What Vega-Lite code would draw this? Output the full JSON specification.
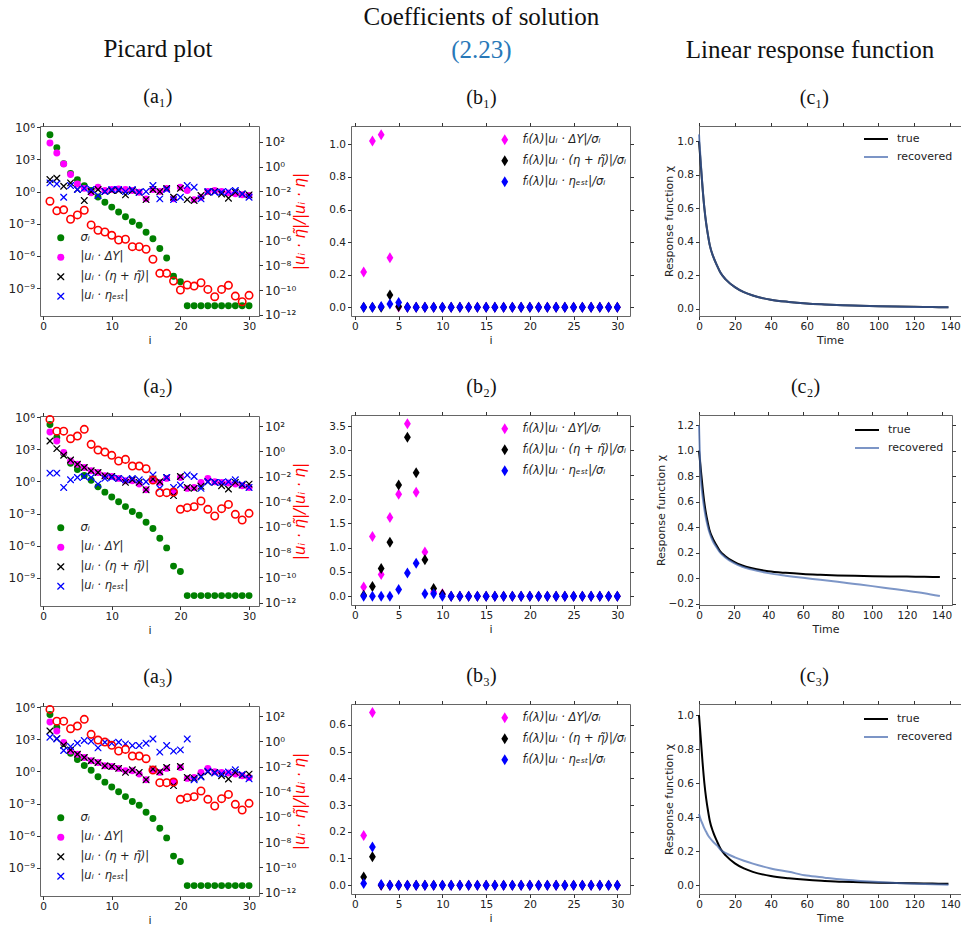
{
"$schema": "https://vega.github.io/schema/vega-lite/v6.json",
"padding": {"left": 7, "top": 3, "right": 0, "bottom": 0},
"config": {
 "font": "DejaVu Sans",
 "view": {"stroke": "#666666", "strokeWidth": 1},
 "axis": {"domain": false, "grid": false, "ticks": true, "tickSize": 3.5, "tickColor": "#333333", "tickWidth": 1, "labelFont": "DejaVu Sans", "labelFontSize": 10.5, "labelColor": "#222222", "labelPadding": 2, "labelFlush": false, "labelOverlap": false, "titleFont": "DejaVu Sans", "titleFontSize": 11, "titleFontWeight": "normal", "titleColor": "#222222", "titlePadding": 2},
 "title": {"font": "Liberation Serif", "fontSize": 20, "fontWeight": "normal", "color": "#111111", "anchor": "middle", "frame": "bounds", "offset": 14, "subtitleFont": "Liberation Serif", "subtitleFontSize": 25, "subtitleColor": "#111111"},
 "legend": {"padding": 0, "labelFont": "DejaVu Sans", "labelColor": "#222222"}
},
"datasets": {
 "a1": [
{"i":1,"s":"sig","v":2e5},{"i":2,"s":"sig","v":1.26e4},{"i":3,"s":"sig","v":398},{"i":4,"s":"sig","v":50},{"i":5,"s":"sig","v":12.6},{"i":6,"s":"sig","v":3.55},{"i":7,"s":"sig","v":1.26},{"i":8,"s":"sig","v":0.316},{"i":9,"s":"sig","v":0.1},{"i":10,"s":"sig","v":0.0355},{"i":11,"s":"sig","v":0.0126},{"i":12,"s":"sig","v":0.00447},{"i":13,"s":"sig","v":0.00158},{"i":14,"s":"sig","v":0.00071},{"i":15,"s":"sig","v":0.000158},{"i":16,"s":"sig","v":3.98e-5},{"i":17,"s":"sig","v":5e-6},{"i":18,"s":"sig","v":6.3e-7},{"i":19,"s":"sig","v":1.26e-8},{"i":20,"s":"sig","v":3.98e-9},{"i":21,"s":"sig","v":2.24e-11},{"i":22,"s":"sig","v":2.24e-11},{"i":23,"s":"sig","v":2.24e-11},{"i":24,"s":"sig","v":2.24e-11},{"i":25,"s":"sig","v":2.24e-11},{"i":26,"s":"sig","v":2.24e-11},{"i":27,"s":"sig","v":2.24e-11},{"i":28,"s":"sig","v":2.24e-11},{"i":29,"s":"sig","v":2.24e-11},{"i":30,"s":"sig","v":2.24e-11},
{"i":1,"s":"dy","v":33900},{"i":2,"s":"dy","v":3981},{"i":3,"s":"dy","v":380},{"i":4,"s":"dy","v":39.8},{"i":5,"s":"dy","v":5.0},{"i":6,"s":"dy","v":2.0},{"i":7,"s":"dy","v":0.76},{"i":8,"s":"dy","v":2.51},{"i":9,"s":"dy","v":1.26},{"i":10,"s":"dy","v":1.55},{"i":11,"s":"dy","v":1.78},{"i":12,"s":"dy","v":1.55},{"i":13,"s":"dy","v":1.26},{"i":14,"s":"dy","v":0.87},{"i":15,"s":"dy","v":0.209},{"i":16,"s":"dy","v":1.55},{"i":17,"s":"dy","v":1.0},{"i":18,"s":"dy","v":2.0},{"i":19,"s":"dy","v":0.209},{"i":20,"s":"dy","v":2.51},{"i":21,"s":"dy","v":1.26},{"i":22,"s":"dy","v":0.178},{"i":23,"s":"dy","v":0.295},{"i":24,"s":"dy","v":1.0},{"i":25,"s":"dy","v":1.26},{"i":26,"s":"dy","v":1.0},{"i":27,"s":"dy","v":0.76},{"i":28,"s":"dy","v":0.63},{"i":29,"s":"dy","v":0.5},{"i":30,"s":"dy","v":0.427},
{"i":1,"s":"eta","v":13.2},{"i":2,"s":"eta","v":17.4},{"i":3,"s":"eta","v":3.16},{"i":4,"s":"eta","v":6.46},{"i":5,"s":"eta","v":1.55},{"i":6,"s":"eta","v":0.145},{"i":7,"s":"eta","v":1.0},{"i":8,"s":"eta","v":1.55},{"i":9,"s":"eta","v":1.0},{"i":10,"s":"eta","v":1.26},{"i":11,"s":"eta","v":1.26},{"i":12,"s":"eta","v":0.49},{"i":13,"s":"eta","v":1.26},{"i":14,"s":"eta","v":0.87},{"i":15,"s":"eta","v":0.178},{"i":16,"s":"eta","v":1.55},{"i":17,"s":"eta","v":1.0},{"i":18,"s":"eta","v":2.0},{"i":19,"s":"eta","v":0.295},{"i":20,"s":"eta","v":2.0},{"i":21,"s":"eta","v":0.178},{"i":22,"s":"eta","v":0.145},{"i":23,"s":"eta","v":0.427},{"i":24,"s":"eta","v":0.87},{"i":25,"s":"eta","v":1.0},{"i":26,"s":"eta","v":0.6},{"i":27,"s":"eta","v":0.24},{"i":28,"s":"eta","v":0.87},{"i":29,"s":"eta","v":0.6},{"i":30,"s":"eta","v":0.49},
{"i":1,"s":"est","v":6.46},{"i":2,"s":"est","v":5.13},{"i":3,"s":"est","v":0.295},{"i":4,"s":"est","v":3.63},{"i":5,"s":"est","v":1.55},{"i":6,"s":"est","v":2.04},{"i":7,"s":"est","v":1.55},{"i":8,"s":"est","v":0.427},{"i":9,"s":"est","v":1.0},{"i":10,"s":"est","v":1.55},{"i":11,"s":"est","v":1.55},{"i":12,"s":"est","v":1.0},{"i":13,"s":"est","v":1.55},{"i":14,"s":"est","v":0.87},{"i":15,"s":"est","v":1.0},{"i":16,"s":"est","v":3.63},{"i":17,"s":"est","v":0.209},{"i":18,"s":"est","v":1.55},{"i":19,"s":"est","v":0.178},{"i":20,"s":"est","v":0.295},{"i":21,"s":"est","v":3.63},{"i":22,"s":"est","v":2.51},{"i":23,"s":"est","v":0.209},{"i":24,"s":"est","v":1.0},{"i":25,"s":"est","v":0.87},{"i":26,"s":"est","v":0.87},{"i":27,"s":"est","v":1.0},{"i":28,"s":"est","v":1.26},{"i":29,"s":"est","v":0.6},{"i":30,"s":"est","v":0.295}
 ],
 "a2": [
{"i":1,"s":"sig","v":2e5},{"i":2,"s":"sig","v":1.26e4},{"i":3,"s":"sig","v":398},{"i":4,"s":"sig","v":50},{"i":5,"s":"sig","v":12.6},{"i":6,"s":"sig","v":3.55},{"i":7,"s":"sig","v":1.26},{"i":8,"s":"sig","v":0.316},{"i":9,"s":"sig","v":0.1},{"i":10,"s":"sig","v":0.0355},{"i":11,"s":"sig","v":0.0126},{"i":12,"s":"sig","v":0.00447},{"i":13,"s":"sig","v":0.00158},{"i":14,"s":"sig","v":0.00071},{"i":15,"s":"sig","v":0.000158},{"i":16,"s":"sig","v":3.98e-5},{"i":17,"s":"sig","v":5e-6},{"i":18,"s":"sig","v":6.3e-7},{"i":19,"s":"sig","v":1.26e-8},{"i":20,"s":"sig","v":3.98e-9},{"i":21,"s":"sig","v":2.24e-11},{"i":22,"s":"sig","v":2.24e-11},{"i":23,"s":"sig","v":2.24e-11},{"i":24,"s":"sig","v":2.24e-11},{"i":25,"s":"sig","v":2.24e-11},{"i":26,"s":"sig","v":2.24e-11},{"i":27,"s":"sig","v":2.24e-11},{"i":28,"s":"sig","v":2.24e-11},{"i":29,"s":"sig","v":2.24e-11},{"i":30,"s":"sig","v":2.24e-11},
{"i":1,"s":"dy","v":39800},{"i":2,"s":"dy","v":5890},{"i":3,"s":"dy","v":490},{"i":4,"s":"dy","v":81.3},{"i":5,"s":"dy","v":39.8},{"i":6,"s":"dy","v":20},{"i":7,"s":"dy","v":9.77},{"i":8,"s":"dy","v":6.76},{"i":9,"s":"dy","v":3.31},{"i":10,"s":"dy","v":2.88},{"i":11,"s":"dy","v":1.91},{"i":12,"s":"dy","v":1.15},{"i":13,"s":"dy","v":1.15},{"i":14,"s":"dy","v":0.56},{"i":15,"s":"dy","v":0.17},{"i":16,"s":"dy","v":1.41},{"i":17,"s":"dy","v":0.81},{"i":18,"s":"dy","v":1.91},{"i":19,"s":"dy","v":0.11},{"i":20,"s":"dy","v":2.34},{"i":21,"s":"dy","v":0.224},{"i":22,"s":"dy","v":0.275},{"i":23,"s":"dy","v":0.81},{"i":24,"s":"dy","v":1.91},{"i":25,"s":"dy","v":0.93},{"i":26,"s":"dy","v":0.81},{"i":27,"s":"dy","v":0.71},{"i":28,"s":"dy","v":0.56},{"i":29,"s":"dy","v":0.4},{"i":30,"s":"dy","v":0.275},
{"i":1,"s":"eta","v":5890},{"i":2,"s":"eta","v":1150},{"i":3,"s":"eta","v":275},{"i":4,"s":"eta","v":100},{"i":5,"s":"eta","v":39.8},{"i":6,"s":"eta","v":20},{"i":7,"s":"eta","v":9.77},{"i":8,"s":"eta","v":6.76},{"i":9,"s":"eta","v":3.31},{"i":10,"s":"eta","v":2.88},{"i":11,"s":"eta","v":1.91},{"i":12,"s":"eta","v":0.81},{"i":13,"s":"eta","v":1.41},{"i":14,"s":"eta","v":0.81},{"i":15,"s":"eta","v":0.17},{"i":16,"s":"eta","v":1.66},{"i":17,"s":"eta","v":0.93},{"i":18,"s":"eta","v":2.34},{"i":19,"s":"eta","v":0.047},{"i":20,"s":"eta","v":2.88},{"i":21,"s":"eta","v":0.275},{"i":22,"s":"eta","v":0.224},{"i":23,"s":"eta","v":0.347},{"i":24,"s":"eta","v":0.93},{"i":25,"s":"eta","v":0.81},{"i":26,"s":"eta","v":0.4},{"i":27,"s":"eta","v":0.195},{"i":28,"s":"eta","v":0.81},{"i":29,"s":"eta","v":0.457},{"i":30,"s":"eta","v":0.56},
{"i":1,"s":"est","v":5.89},{"i":2,"s":"est","v":5.89},{"i":3,"s":"est","v":0.275},{"i":4,"s":"est","v":1.41},{"i":5,"s":"est","v":2.34},{"i":6,"s":"est","v":2.88},{"i":7,"s":"est","v":2.34},{"i":8,"s":"est","v":0.56},{"i":9,"s":"est","v":1.91},{"i":10,"s":"est","v":2.34},{"i":11,"s":"est","v":1.91},{"i":12,"s":"est","v":1.41},{"i":13,"s":"est","v":1.91},{"i":14,"s":"est","v":1.41},{"i":15,"s":"est","v":0.93},{"i":16,"s":"est","v":3.89},{"i":17,"s":"est","v":0.224},{"i":18,"s":"est","v":2.34},{"i":19,"s":"est","v":0.275},{"i":20,"s":"est","v":0.457},{"i":21,"s":"est","v":3.89},{"i":22,"s":"est","v":2.88},{"i":23,"s":"est","v":0.224},{"i":24,"s":"est","v":0.93},{"i":25,"s":"est","v":0.81},{"i":26,"s":"est","v":0.81},{"i":27,"s":"est","v":0.93},{"i":28,"s":"est","v":1.41},{"i":29,"s":"est","v":0.56},{"i":30,"s":"est","v":0.275}
 ],
 "a3": [
{"i":1,"s":"sig","v":2e5},{"i":2,"s":"sig","v":1.26e4},{"i":3,"s":"sig","v":398},{"i":4,"s":"sig","v":50},{"i":5,"s":"sig","v":12.6},{"i":6,"s":"sig","v":3.55},{"i":7,"s":"sig","v":1.26},{"i":8,"s":"sig","v":0.316},{"i":9,"s":"sig","v":0.1},{"i":10,"s":"sig","v":0.0355},{"i":11,"s":"sig","v":0.0126},{"i":12,"s":"sig","v":0.00447},{"i":13,"s":"sig","v":0.00158},{"i":14,"s":"sig","v":0.00071},{"i":15,"s":"sig","v":0.000158},{"i":16,"s":"sig","v":3.98e-5},{"i":17,"s":"sig","v":5e-6},{"i":18,"s":"sig","v":6.3e-7},{"i":19,"s":"sig","v":1.26e-8},{"i":20,"s":"sig","v":3.98e-9},{"i":21,"s":"sig","v":2.24e-11},{"i":22,"s":"sig","v":2.24e-11},{"i":23,"s":"sig","v":2.24e-11},{"i":24,"s":"sig","v":2.24e-11},{"i":25,"s":"sig","v":2.24e-11},{"i":26,"s":"sig","v":2.24e-11},{"i":27,"s":"sig","v":2.24e-11},{"i":28,"s":"sig","v":2.24e-11},{"i":29,"s":"sig","v":2.24e-11},{"i":30,"s":"sig","v":2.24e-11},
{"i":1,"s":"dy","v":39800},{"i":2,"s":"dy","v":5890},{"i":3,"s":"dy","v":490},{"i":4,"s":"dy","v":81.3},{"i":5,"s":"dy","v":39.8},{"i":6,"s":"dy","v":20},{"i":7,"s":"dy","v":9.77},{"i":8,"s":"dy","v":6.76},{"i":9,"s":"dy","v":3.31},{"i":10,"s":"dy","v":2.88},{"i":11,"s":"dy","v":1.91},{"i":12,"s":"dy","v":1.15},{"i":13,"s":"dy","v":1.15},{"i":14,"s":"dy","v":0.56},{"i":15,"s":"dy","v":0.17},{"i":16,"s":"dy","v":1.41},{"i":17,"s":"dy","v":0.81},{"i":18,"s":"dy","v":1.91},{"i":19,"s":"dy","v":0.11},{"i":20,"s":"dy","v":2.34},{"i":21,"s":"dy","v":0.224},{"i":22,"s":"dy","v":0.275},{"i":23,"s":"dy","v":0.81},{"i":24,"s":"dy","v":1.91},{"i":25,"s":"dy","v":0.93},{"i":26,"s":"dy","v":0.81},{"i":27,"s":"dy","v":0.71},{"i":28,"s":"dy","v":0.56},{"i":29,"s":"dy","v":0.4},{"i":30,"s":"dy","v":0.275},
{"i":1,"s":"eta","v":5890},{"i":2,"s":"eta","v":1150},{"i":3,"s":"eta","v":275},{"i":4,"s":"eta","v":100},{"i":5,"s":"eta","v":39.8},{"i":6,"s":"eta","v":20},{"i":7,"s":"eta","v":9.77},{"i":8,"s":"eta","v":6.76},{"i":9,"s":"eta","v":3.31},{"i":10,"s":"eta","v":2.88},{"i":11,"s":"eta","v":1.91},{"i":12,"s":"eta","v":0.81},{"i":13,"s":"eta","v":1.41},{"i":14,"s":"eta","v":0.81},{"i":15,"s":"eta","v":0.17},{"i":16,"s":"eta","v":1.66},{"i":17,"s":"eta","v":0.93},{"i":18,"s":"eta","v":2.34},{"i":19,"s":"eta","v":0.047},{"i":20,"s":"eta","v":2.88},{"i":21,"s":"eta","v":0.275},{"i":22,"s":"eta","v":0.224},{"i":23,"s":"eta","v":0.347},{"i":24,"s":"eta","v":0.93},{"i":25,"s":"eta","v":0.81},{"i":26,"s":"eta","v":0.4},{"i":27,"s":"eta","v":0.195},{"i":28,"s":"eta","v":0.81},{"i":29,"s":"eta","v":0.457},{"i":30,"s":"eta","v":0.56},
{"i":1,"s":"est","v":1549},{"i":2,"s":"est","v":1072},{"i":3,"s":"est","v":89},{"i":4,"s":"est","v":209},{"i":5,"s":"est","v":427},{"i":6,"s":"est","v":759},{"i":7,"s":"est","v":661},{"i":8,"s":"est","v":158},{"i":9,"s":"est","v":525},{"i":10,"s":"est","v":427},{"i":11,"s":"est","v":525},{"i":12,"s":"est","v":372},{"i":13,"s":"est","v":257},{"i":14,"s":"est","v":257},{"i":15,"s":"est","v":427},{"i":16,"s":"est","v":1072},{"i":17,"s":"est","v":63},{"i":18,"s":"est","v":257},{"i":19,"s":"est","v":78},{"i":20,"s":"est","v":102},{"i":21,"s":"est","v":1072},{"i":22,"s":"est","v":0.17},{"i":23,"s":"est","v":0.295},{"i":24,"s":"est","v":1.07},{"i":25,"s":"est","v":0.71},{"i":26,"s":"est","v":0.6},{"i":27,"s":"est","v":0.87},{"i":28,"s":"est","v":1.41},{"i":29,"s":"est","v":0.525},{"i":30,"s":"est","v":0.209}
 ],
 "r1": [
{"i":1,"v":1.55e-3},{"i":2,"v":2.57e-4},{"i":3,"v":3.09e-4},{"i":4,"v":5.37e-5},{"i":5,"v":1.2e-4},{"i":6,"v":2.88e-4},{"i":7,"v":1.86e-5},{"i":8,"v":6.9e-6},{"i":9,"v":5.0e-6},{"i":10,"v":2.69e-6},{"i":11,"v":1.12e-6},{"i":12,"v":1.29e-6},{"i":13,"v":3.24e-7},{"i":14,"v":3.24e-7},{"i":15,"v":2.0e-7},{"i":16,"v":3.09e-8},{"i":17,"v":2.24e-9},{"i":18,"v":2.24e-9},{"i":19,"v":5.37e-10},{"i":20,"v":1.0e-10},{"i":21,"v":2.57e-10},{"i":22,"v":2.09e-10},{"i":23,"v":3.89e-10},{"i":24,"v":1.12e-10},{"i":25,"v":2.88e-11},{"i":26,"v":1.12e-10},{"i":27,"v":2.4e-10},{"i":28,"v":3.24e-11},{"i":29,"v":1.12e-11},{"i":30,"v":3.72e-11}
 ],
 "r23": [
{"i":1,"v":339},{"i":2,"v":39.8},{"i":3,"v":39.8},{"i":4,"v":10},{"i":5,"v":16.2},{"i":6,"v":55},{"i":7,"v":3.55},{"i":8,"v":1.26},{"i":9,"v":0.87},{"i":10,"v":0.479},{"i":11,"v":0.17},{"i":12,"v":0.229},{"i":13,"v":0.0676},{"i":14,"v":0.0676},{"i":15,"v":0.0417},{"i":16,"v":5.25e-3},{"i":17,"v":5.25e-4},{"i":18,"v":5.25e-4},{"i":19,"v":5.89e-4},{"i":20,"v":2.51e-5},{"i":21,"v":3.39e-5},{"i":22,"v":4.07e-5},{"i":23,"v":1.15e-4},{"i":24,"v":2.51e-5},{"i":25,"v":7.41e-6},{"i":26,"v":2.82e-5},{"i":27,"v":6.17e-5},{"i":28,"v":1.0e-5},{"i":29,"v":3.55e-6},{"i":30,"v":1.2e-5}
 ],
 "b1": [
{"i":1,"s":"dy","v":0.217},{"i":2,"s":"dy","v":1.02},{"i":3,"s":"dy","v":1.059},{"i":4,"s":"dy","v":0.304},{"i":5,"s":"dy","v":0.002},{"i":6,"s":"dy","v":0},{"i":7,"s":"dy","v":0},{"i":8,"s":"dy","v":0},{"i":9,"s":"dy","v":0},{"i":10,"s":"dy","v":0},{"i":11,"s":"dy","v":0},{"i":12,"s":"dy","v":0},{"i":13,"s":"dy","v":0},{"i":14,"s":"dy","v":0},{"i":15,"s":"dy","v":0},{"i":16,"s":"dy","v":0},{"i":17,"s":"dy","v":0},{"i":18,"s":"dy","v":0},{"i":19,"s":"dy","v":0},{"i":20,"s":"dy","v":0},{"i":21,"s":"dy","v":0},{"i":22,"s":"dy","v":0},{"i":23,"s":"dy","v":0},{"i":24,"s":"dy","v":0},{"i":25,"s":"dy","v":0},{"i":26,"s":"dy","v":0},{"i":27,"s":"dy","v":0},{"i":28,"s":"dy","v":0},{"i":29,"s":"dy","v":0},{"i":30,"s":"dy","v":0},
{"i":1,"s":"eta","v":0},{"i":2,"s":"eta","v":0},{"i":3,"s":"eta","v":0},{"i":4,"s":"eta","v":0.075},{"i":5,"s":"eta","v":0.006},{"i":6,"s":"eta","v":0},{"i":7,"s":"eta","v":0},{"i":8,"s":"eta","v":0},{"i":9,"s":"eta","v":0},{"i":10,"s":"eta","v":0},{"i":11,"s":"eta","v":0},{"i":12,"s":"eta","v":0},{"i":13,"s":"eta","v":0},{"i":14,"s":"eta","v":0},{"i":15,"s":"eta","v":0},{"i":16,"s":"eta","v":0},{"i":17,"s":"eta","v":0},{"i":18,"s":"eta","v":0},{"i":19,"s":"eta","v":0},{"i":20,"s":"eta","v":0},{"i":21,"s":"eta","v":0},{"i":22,"s":"eta","v":0},{"i":23,"s":"eta","v":0},{"i":24,"s":"eta","v":0},{"i":25,"s":"eta","v":0},{"i":26,"s":"eta","v":0},{"i":27,"s":"eta","v":0},{"i":28,"s":"eta","v":0},{"i":29,"s":"eta","v":0},{"i":30,"s":"eta","v":0},
{"i":1,"s":"est","v":0},{"i":2,"s":"est","v":0},{"i":3,"s":"est","v":0.005},{"i":4,"s":"est","v":0.02},{"i":5,"s":"est","v":0.03},{"i":6,"s":"est","v":0},{"i":7,"s":"est","v":0},{"i":8,"s":"est","v":0},{"i":9,"s":"est","v":0},{"i":10,"s":"est","v":0},{"i":11,"s":"est","v":0},{"i":12,"s":"est","v":0},{"i":13,"s":"est","v":0},{"i":14,"s":"est","v":0},{"i":15,"s":"est","v":0},{"i":16,"s":"est","v":0},{"i":17,"s":"est","v":0},{"i":18,"s":"est","v":0},{"i":19,"s":"est","v":0},{"i":20,"s":"est","v":0},{"i":21,"s":"est","v":0},{"i":22,"s":"est","v":0},{"i":23,"s":"est","v":0},{"i":24,"s":"est","v":0},{"i":25,"s":"est","v":0},{"i":26,"s":"est","v":0},{"i":27,"s":"est","v":0},{"i":28,"s":"est","v":0},{"i":29,"s":"est","v":0},{"i":30,"s":"est","v":0}
 ],
 "b2": [
{"i":1,"s":"dy","v":0.19},{"i":2,"s":"dy","v":1.23},{"i":3,"s":"dy","v":0.45},{"i":4,"s":"dy","v":1.62},{"i":5,"s":"dy","v":2.1},{"i":6,"s":"dy","v":3.55},{"i":7,"s":"dy","v":2.14},{"i":8,"s":"dy","v":0.91},{"i":9,"s":"dy","v":0.09},{"i":10,"s":"dy","v":0.05},{"i":11,"s":"dy","v":0},{"i":12,"s":"dy","v":0},{"i":13,"s":"dy","v":0},{"i":14,"s":"dy","v":0},{"i":15,"s":"dy","v":0},{"i":16,"s":"dy","v":0},{"i":17,"s":"dy","v":0},{"i":18,"s":"dy","v":0},{"i":19,"s":"dy","v":0},{"i":20,"s":"dy","v":0},{"i":21,"s":"dy","v":0},{"i":22,"s":"dy","v":0},{"i":23,"s":"dy","v":0},{"i":24,"s":"dy","v":0},{"i":25,"s":"dy","v":0},{"i":26,"s":"dy","v":0},{"i":27,"s":"dy","v":0},{"i":28,"s":"dy","v":0},{"i":29,"s":"dy","v":0},{"i":30,"s":"dy","v":0},
{"i":1,"s":"eta","v":0.02},{"i":2,"s":"eta","v":0.2},{"i":3,"s":"eta","v":0.57},{"i":4,"s":"eta","v":1.11},{"i":5,"s":"eta","v":2.29},{"i":6,"s":"eta","v":3.27},{"i":7,"s":"eta","v":2.54},{"i":8,"s":"eta","v":0.75},{"i":9,"s":"eta","v":0.16},{"i":10,"s":"eta","v":0.04},{"i":11,"s":"eta","v":0},{"i":12,"s":"eta","v":0},{"i":13,"s":"eta","v":0},{"i":14,"s":"eta","v":0},{"i":15,"s":"eta","v":0},{"i":16,"s":"eta","v":0},{"i":17,"s":"eta","v":0},{"i":18,"s":"eta","v":0},{"i":19,"s":"eta","v":0},{"i":20,"s":"eta","v":0},{"i":21,"s":"eta","v":0},{"i":22,"s":"eta","v":0},{"i":23,"s":"eta","v":0},{"i":24,"s":"eta","v":0},{"i":25,"s":"eta","v":0},{"i":26,"s":"eta","v":0},{"i":27,"s":"eta","v":0},{"i":28,"s":"eta","v":0},{"i":29,"s":"eta","v":0},{"i":30,"s":"eta","v":0},
{"i":1,"s":"est","v":0},{"i":2,"s":"est","v":0},{"i":3,"s":"est","v":0},{"i":4,"s":"est","v":0},{"i":5,"s":"est","v":0.14},{"i":6,"s":"est","v":0.48},{"i":7,"s":"est","v":0.68},{"i":8,"s":"est","v":0.05},{"i":9,"s":"est","v":0.05},{"i":10,"s":"est","v":0},{"i":11,"s":"est","v":0},{"i":12,"s":"est","v":0},{"i":13,"s":"est","v":0},{"i":14,"s":"est","v":0},{"i":15,"s":"est","v":0},{"i":16,"s":"est","v":0},{"i":17,"s":"est","v":0},{"i":18,"s":"est","v":0},{"i":19,"s":"est","v":0},{"i":20,"s":"est","v":0},{"i":21,"s":"est","v":0},{"i":22,"s":"est","v":0},{"i":23,"s":"est","v":0},{"i":24,"s":"est","v":0},{"i":25,"s":"est","v":0},{"i":26,"s":"est","v":0},{"i":27,"s":"est","v":0},{"i":28,"s":"est","v":0},{"i":29,"s":"est","v":0},{"i":30,"s":"est","v":0}
 ],
 "b3": [
{"i":1,"s":"dy","v":0.186},{"i":2,"s":"dy","v":0.646},{"i":3,"s":"dy","v":0},{"i":4,"s":"dy","v":0},{"i":5,"s":"dy","v":0},{"i":6,"s":"dy","v":0},{"i":7,"s":"dy","v":0},{"i":8,"s":"dy","v":0},{"i":9,"s":"dy","v":0},{"i":10,"s":"dy","v":0},{"i":11,"s":"dy","v":0},{"i":12,"s":"dy","v":0},{"i":13,"s":"dy","v":0},{"i":14,"s":"dy","v":0},{"i":15,"s":"dy","v":0},{"i":16,"s":"dy","v":0},{"i":17,"s":"dy","v":0},{"i":18,"s":"dy","v":0},{"i":19,"s":"dy","v":0},{"i":20,"s":"dy","v":0},{"i":21,"s":"dy","v":0},{"i":22,"s":"dy","v":0},{"i":23,"s":"dy","v":0},{"i":24,"s":"dy","v":0},{"i":25,"s":"dy","v":0},{"i":26,"s":"dy","v":0},{"i":27,"s":"dy","v":0},{"i":28,"s":"dy","v":0},{"i":29,"s":"dy","v":0},{"i":30,"s":"dy","v":0},
{"i":1,"s":"eta","v":0.031},{"i":2,"s":"eta","v":0.106},{"i":3,"s":"eta","v":0},{"i":4,"s":"eta","v":0},{"i":5,"s":"eta","v":0},{"i":6,"s":"eta","v":0},{"i":7,"s":"eta","v":0},{"i":8,"s":"eta","v":0},{"i":9,"s":"eta","v":0},{"i":10,"s":"eta","v":0},{"i":11,"s":"eta","v":0},{"i":12,"s":"eta","v":0},{"i":13,"s":"eta","v":0},{"i":14,"s":"eta","v":0},{"i":15,"s":"eta","v":0},{"i":16,"s":"eta","v":0},{"i":17,"s":"eta","v":0},{"i":18,"s":"eta","v":0},{"i":19,"s":"eta","v":0},{"i":20,"s":"eta","v":0},{"i":21,"s":"eta","v":0},{"i":22,"s":"eta","v":0},{"i":23,"s":"eta","v":0},{"i":24,"s":"eta","v":0},{"i":25,"s":"eta","v":0},{"i":26,"s":"eta","v":0},{"i":27,"s":"eta","v":0},{"i":28,"s":"eta","v":0},{"i":29,"s":"eta","v":0},{"i":30,"s":"eta","v":0},
{"i":1,"s":"est","v":0.006},{"i":2,"s":"est","v":0.143},{"i":3,"s":"est","v":0.003},{"i":4,"s":"est","v":0},{"i":5,"s":"est","v":0},{"i":6,"s":"est","v":0},{"i":7,"s":"est","v":0},{"i":8,"s":"est","v":0},{"i":9,"s":"est","v":0},{"i":10,"s":"est","v":0},{"i":11,"s":"est","v":0},{"i":12,"s":"est","v":0},{"i":13,"s":"est","v":0},{"i":14,"s":"est","v":0},{"i":15,"s":"est","v":0},{"i":16,"s":"est","v":0},{"i":17,"s":"est","v":0},{"i":18,"s":"est","v":0},{"i":19,"s":"est","v":0},{"i":20,"s":"est","v":0},{"i":21,"s":"est","v":0},{"i":22,"s":"est","v":0},{"i":23,"s":"est","v":0},{"i":24,"s":"est","v":0},{"i":25,"s":"est","v":0},{"i":26,"s":"est","v":0},{"i":27,"s":"est","v":0},{"i":28,"s":"est","v":0},{"i":29,"s":"est","v":0},{"i":30,"s":"est","v":0}
 ],
 "c1": [
{"t":0,"s":"true","v":1.0},{"t":1,"s":"true","v":0.86},{"t":2,"s":"true","v":0.72},{"t":3,"s":"true","v":0.6},{"t":4,"s":"true","v":0.51},{"t":5,"s":"true","v":0.44},{"t":6,"s":"true","v":0.38},{"t":8,"s":"true","v":0.31},{"t":10,"s":"true","v":0.26},{"t":12,"s":"true","v":0.215},{"t":15,"s":"true","v":0.175},{"t":20,"s":"true","v":0.13},{"t":25,"s":"true","v":0.1},{"t":30,"s":"true","v":0.08},{"t":40,"s":"true","v":0.055},{"t":50,"s":"true","v":0.042},{"t":60,"s":"true","v":0.033},{"t":70,"s":"true","v":0.027},{"t":80,"s":"true","v":0.022},{"t":90,"s":"true","v":0.019},{"t":100,"s":"true","v":0.016},{"t":110,"s":"true","v":0.014},{"t":120,"s":"true","v":0.013},{"t":130,"s":"true","v":0.011},{"t":139,"s":"true","v":0.01},
{"t":0,"s":"recovered","v":1.04},{"t":1,"s":"recovered","v":0.87},{"t":2,"s":"recovered","v":0.72},{"t":3,"s":"recovered","v":0.6},{"t":4,"s":"recovered","v":0.51},{"t":5,"s":"recovered","v":0.44},{"t":6,"s":"recovered","v":0.38},{"t":8,"s":"recovered","v":0.31},{"t":10,"s":"recovered","v":0.26},{"t":12,"s":"recovered","v":0.215},{"t":15,"s":"recovered","v":0.175},{"t":20,"s":"recovered","v":0.13},{"t":25,"s":"recovered","v":0.1},{"t":30,"s":"recovered","v":0.08},{"t":40,"s":"recovered","v":0.055},{"t":50,"s":"recovered","v":0.042},{"t":60,"s":"recovered","v":0.033},{"t":70,"s":"recovered","v":0.027},{"t":80,"s":"recovered","v":0.022},{"t":90,"s":"recovered","v":0.019},{"t":100,"s":"recovered","v":0.016},{"t":110,"s":"recovered","v":0.014},{"t":120,"s":"recovered","v":0.012},{"t":130,"s":"recovered","v":0.011},{"t":139,"s":"recovered","v":0.01}
 ],
 "c2": [
{"t":0,"s":"true","v":1.0},{"t":1,"s":"true","v":0.86},{"t":2,"s":"true","v":0.72},{"t":3,"s":"true","v":0.6},{"t":4,"s":"true","v":0.51},{"t":5,"s":"true","v":0.44},{"t":6,"s":"true","v":0.38},{"t":8,"s":"true","v":0.31},{"t":10,"s":"true","v":0.26},{"t":12,"s":"true","v":0.215},{"t":15,"s":"true","v":0.175},{"t":20,"s":"true","v":0.13},{"t":25,"s":"true","v":0.1},{"t":30,"s":"true","v":0.08},{"t":40,"s":"true","v":0.055},{"t":50,"s":"true","v":0.042},{"t":60,"s":"true","v":0.033},{"t":70,"s":"true","v":0.027},{"t":80,"s":"true","v":0.022},{"t":90,"s":"true","v":0.019},{"t":100,"s":"true","v":0.016},{"t":110,"s":"true","v":0.014},{"t":120,"s":"true","v":0.013},{"t":130,"s":"true","v":0.011},{"t":139,"s":"true","v":0.01},
{"t":0,"s":"recovered","v":1.2},{"t":1,"s":"recovered","v":0.8},{"t":2,"s":"recovered","v":0.65},{"t":3,"s":"recovered","v":0.55},{"t":4,"s":"recovered","v":0.47},{"t":5,"s":"recovered","v":0.41},{"t":6,"s":"recovered","v":0.36},{"t":8,"s":"recovered","v":0.29},{"t":10,"s":"recovered","v":0.245},{"t":12,"s":"recovered","v":0.205},{"t":15,"s":"recovered","v":0.165},{"t":20,"s":"recovered","v":0.12},{"t":25,"s":"recovered","v":0.09},{"t":30,"s":"recovered","v":0.07},{"t":40,"s":"recovered","v":0.04},{"t":50,"s":"recovered","v":0.02},{"t":60,"s":"recovered","v":0.003},{"t":70,"s":"recovered","v":-0.012},{"t":80,"s":"recovered","v":-0.028},{"t":90,"s":"recovered","v":-0.045},{"t":100,"s":"recovered","v":-0.062},{"t":110,"s":"recovered","v":-0.08},{"t":120,"s":"recovered","v":-0.098},{"t":130,"s":"recovered","v":-0.118},{"t":139,"s":"recovered","v":-0.14}
 ],
 "c3": [
{"t":0,"s":"true","v":1.0},{"t":1,"s":"true","v":0.86},{"t":2,"s":"true","v":0.72},{"t":3,"s":"true","v":0.6},{"t":4,"s":"true","v":0.51},{"t":5,"s":"true","v":0.44},{"t":6,"s":"true","v":0.38},{"t":8,"s":"true","v":0.31},{"t":10,"s":"true","v":0.26},{"t":12,"s":"true","v":0.215},{"t":15,"s":"true","v":0.175},{"t":20,"s":"true","v":0.13},{"t":25,"s":"true","v":0.1},{"t":30,"s":"true","v":0.08},{"t":40,"s":"true","v":0.055},{"t":50,"s":"true","v":0.042},{"t":60,"s":"true","v":0.033},{"t":70,"s":"true","v":0.027},{"t":80,"s":"true","v":0.022},{"t":90,"s":"true","v":0.019},{"t":100,"s":"true","v":0.016},{"t":110,"s":"true","v":0.014},{"t":120,"s":"true","v":0.013},{"t":130,"s":"true","v":0.011},{"t":139,"s":"true","v":0.01},
{"t":0,"s":"recovered","v":0.42},{"t":1,"s":"recovered","v":0.385},{"t":2,"s":"recovered","v":0.36},{"t":3,"s":"recovered","v":0.335},{"t":4,"s":"recovered","v":0.315},{"t":5,"s":"recovered","v":0.295},{"t":6,"s":"recovered","v":0.28},{"t":8,"s":"recovered","v":0.255},{"t":10,"s":"recovered","v":0.235},{"t":12,"s":"recovered","v":0.21},{"t":15,"s":"recovered","v":0.19},{"t":20,"s":"recovered","v":0.165},{"t":25,"s":"recovered","v":0.145},{"t":30,"s":"recovered","v":0.128},{"t":40,"s":"recovered","v":0.1},{"t":50,"s":"recovered","v":0.08},{"t":60,"s":"recovered","v":0.058},{"t":70,"s":"recovered","v":0.046},{"t":80,"s":"recovered","v":0.035},{"t":90,"s":"recovered","v":0.027},{"t":100,"s":"recovered","v":0.02},{"t":110,"s":"recovered","v":0.014},{"t":120,"s":"recovered","v":0.01},{"t":130,"s":"recovered","v":0.007},{"t":139,"s":"recovered","v":0.004}
 ]
},
"spacing": 19,
"resolve": {"scale": {"color": "independent", "shape": "independent", "opacity": "independent"}, "legend": {"color": "independent", "shape": "independent", "opacity": "independent"}},
"hconcat": [
 {
  "title": {"text": "\u00a0", "subtitle": "Picard plot", "fontSize": 25, "subtitleFontSize": 25, "subtitlePadding": 8, "offset": 25},
  "spacing": 30,
  "resolve": {"scale": {"color": "independent", "shape": "independent", "opacity": "independent"}, "legend": {"color": "independent", "shape": "independent", "opacity": "independent"}},
  "vconcat": [
   {
    "title": {"text": "(a₁)"},
    "width": 219, "height": 190,
    "layer": [
     {"data": {"name": "a1"}, "mark": {"type": "point", "filled": true, "size": 48, "opacity": 1},
      "encoding": {
       "x": {"field": "i", "type": "quantitative", "scale": {"domain": [-0.45, 31.45], "nice": false, "zero": false}, "axis": {"orient": "bottom", "values": [0,10,20,30], "title": "i"}},
       "y": {"field": "v", "type": "quantitative", "scale": {"type": "log", "domain": [2.5e-12, 1.3e6], "nice": false}, "axis": {"orient": "left", "values": [1e-9,1e-6,1e-3,1,1e3,1e6], "labelFontSize": 12, "labelExpr": "datum.value > 1e5 ? '10⁶' : datum.value > 1e2 ? '10³' : datum.value > 0.1 ? '10⁰' : datum.value > 1e-4 ? '10⁻³' : datum.value > 1e-7 ? '10⁻⁶' : '10⁻⁹'", "title": null}},
       "color": {"field": "s", "type": "nominal", "scale": {"domain": ["sig","dy","eta","est"], "range": ["#008000","#ff00ff","#000000","#0000ff"]}, "legend": {"title": null, "orient": "none", "legendX": 15, "legendY": 106, "labelExpr": "datum.label == 'sig' ? 'σᵢ' : datum.label == 'dy' ? '|uᵢ · ΔY|' : datum.label == 'eta' ? '|uᵢ · (η + η̃)|' : '|uᵢ · ηₑₛₜ|'", "labelFontStyle": "italic", "labelFontSize": 11.5, "labelOffset": 14, "rowPadding": 6.5, "symbolSize": 50, "symbolStrokeWidth": 0}},
       "shape": {"field": "s", "type": "nominal", "scale": {"domain": ["sig","dy","eta","est"], "range": ["circle","circle","M0,-0.26L0.74,-1L1,-1L1,-0.74L0.26,0L1,0.74L1,1L0.74,1L0,0.26L-0.74,1L-1,1L-1,0.74L-0.26,0L-1,-0.74L-1,-1L-0.74,-1Z","M0,-0.26L0.74,-1L1,-1L1,-0.74L0.26,0L1,0.74L1,1L0.74,1L0,0.26L-0.74,1L-1,1L-1,0.74L-0.26,0L-1,-0.74L-1,-1L-0.74,-1Z"]}, "legend": {"title": null, "orient": "none", "legendX": 15, "legendY": 106, "labelExpr": "datum.label == 'sig' ? 'σᵢ' : datum.label == 'dy' ? '|uᵢ · ΔY|' : datum.label == 'eta' ? '|uᵢ · (η + η̃)|' : '|uᵢ · ηₑₛₜ|'", "labelFontStyle": "italic", "labelFontSize": 11.5, "labelOffset": 14, "rowPadding": 6.5, "symbolSize": 50, "symbolStrokeWidth": 0}}
      }},
     {"data": {"name": "r1"}, "mark": {"type": "point", "filled": false, "color": "#ff0000", "strokeWidth": 1.6, "size": 55, "opacity": 1},
      "encoding": {
       "x": {"field": "i", "type": "quantitative", "scale": {"domain": [-0.45, 31.45], "nice": false, "zero": false}, "axis": {"orient": "top", "values": [0,10,20,30], "labels": false, "title": null}},
       "y": {"field": "v", "type": "quantitative", "scale": {"type": "log", "domain": [7.9e-13, 1.9e3], "nice": false}, "axis": {"orient": "right", "values": [1e-12,1e-10,1e-8,1e-6,1e-4,1e-2,1,100], "labelFontSize": 12, "labelExpr": "datum.value > 10 ? '10²' : datum.value > 0.1 ? '10⁰' : datum.value > 1e-3 ? '10⁻²' : datum.value > 1e-5 ? '10⁻⁴' : datum.value > 1e-7 ? '10⁻⁶' : datum.value > 1e-9 ? '10⁻⁸' : datum.value > 1e-11 ? '10⁻¹⁰' : '10⁻¹²'", "title": "|uᵢ · η̃|/|uᵢ · η|", "titleColor": "#ff0000", "titleAngle": 270, "titleFontStyle": "italic", "titleFontSize": 15, "titlePadding": 12}}
      }}
    ],
    "resolve": {"scale": {"x": "independent", "y": "independent"}}
   },
   {
    "title": {"text": "(a₂)"},
    "width": 219, "height": 190,
    "layer": [
     {"data": {"name": "a2"}, "mark": {"type": "point", "filled": true, "size": 48, "opacity": 1},
      "encoding": {
       "x": {"field": "i", "type": "quantitative", "scale": {"domain": [-0.45, 31.45], "nice": false, "zero": false}, "axis": {"orient": "bottom", "values": [0,10,20,30], "title": "i"}},
       "y": {"field": "v", "type": "quantitative", "scale": {"type": "log", "domain": [2.4e-12, 1.26e6], "nice": false}, "axis": {"orient": "left", "values": [1e-9,1e-6,1e-3,1,1e3,1e6], "labelFontSize": 12, "labelExpr": "datum.value > 1e5 ? '10⁶' : datum.value > 1e2 ? '10³' : datum.value > 0.1 ? '10⁰' : datum.value > 1e-4 ? '10⁻³' : datum.value > 1e-7 ? '10⁻⁶' : '10⁻⁹'", "title": null}},
       "color": {"field": "s", "type": "nominal", "scale": {"domain": ["sig","dy","eta","est"], "range": ["#008000","#ff00ff","#000000","#0000ff"]}, "legend": {"title": null, "orient": "none", "legendX": 15, "legendY": 106, "labelExpr": "datum.label == 'sig' ? 'σᵢ' : datum.label == 'dy' ? '|uᵢ · ΔY|' : datum.label == 'eta' ? '|uᵢ · (η + η̃)|' : '|uᵢ · ηₑₛₜ|'", "labelFontStyle": "italic", "labelFontSize": 11.5, "labelOffset": 14, "rowPadding": 6.5, "symbolSize": 50, "symbolStrokeWidth": 0}},
       "shape": {"field": "s", "type": "nominal", "scale": {"domain": ["sig","dy","eta","est"], "range": ["circle","circle","M0,-0.26L0.74,-1L1,-1L1,-0.74L0.26,0L1,0.74L1,1L0.74,1L0,0.26L-0.74,1L-1,1L-1,0.74L-0.26,0L-1,-0.74L-1,-1L-0.74,-1Z","M0,-0.26L0.74,-1L1,-1L1,-0.74L0.26,0L1,0.74L1,1L0.74,1L0,0.26L-0.74,1L-1,1L-1,0.74L-0.26,0L-1,-0.74L-1,-1L-0.74,-1Z"]}, "legend": {"title": null, "orient": "none", "legendX": 15, "legendY": 106, "labelExpr": "datum.label == 'sig' ? 'σᵢ' : datum.label == 'dy' ? '|uᵢ · ΔY|' : datum.label == 'eta' ? '|uᵢ · (η + η̃)|' : '|uᵢ · ηₑₛₜ|'", "labelFontStyle": "italic", "labelFontSize": 11.5, "labelOffset": 14, "rowPadding": 6.5, "symbolSize": 50, "symbolStrokeWidth": 0}}
      }},
     {"data": {"name": "r23"}, "mark": {"type": "point", "filled": false, "color": "#ff0000", "strokeWidth": 1.6, "size": 55, "opacity": 1},
      "encoding": {
       "x": {"field": "i", "type": "quantitative", "scale": {"domain": [-0.45, 31.45], "nice": false, "zero": false}, "axis": {"orient": "top", "values": [0,10,20,30], "labels": false, "title": null}},
       "y": {"field": "v", "type": "quantitative", "scale": {"type": "log", "domain": [5.4e-13, 631], "nice": false}, "axis": {"orient": "right", "values": [1e-12,1e-10,1e-8,1e-6,1e-4,1e-2,1,100], "labelFontSize": 12, "labelExpr": "datum.value > 10 ? '10²' : datum.value > 0.1 ? '10⁰' : datum.value > 1e-3 ? '10⁻²' : datum.value > 1e-5 ? '10⁻⁴' : datum.value > 1e-7 ? '10⁻⁶' : datum.value > 1e-9 ? '10⁻⁸' : datum.value > 1e-11 ? '10⁻¹⁰' : '10⁻¹²'", "title": "|uᵢ · η̃|/|uᵢ · η|", "titleColor": "#ff0000", "titleAngle": 270, "titleFontStyle": "italic", "titleFontSize": 15, "titlePadding": 12}}
      }}
    ],
    "resolve": {"scale": {"x": "independent", "y": "independent"}}
   },
   {
    "title": {"text": "(a₃)"},
    "width": 219, "height": 190,
    "layer": [
     {"data": {"name": "a3"}, "mark": {"type": "point", "filled": true, "size": 48, "opacity": 1},
      "encoding": {
       "x": {"field": "i", "type": "quantitative", "scale": {"domain": [-0.45, 31.45], "nice": false, "zero": false}, "axis": {"orient": "bottom", "values": [0,10,20,30], "title": "i"}},
       "y": {"field": "v", "type": "quantitative", "scale": {"type": "log", "domain": [2.4e-12, 1.26e6], "nice": false}, "axis": {"orient": "left", "values": [1e-9,1e-6,1e-3,1,1e3,1e6], "labelFontSize": 12, "labelExpr": "datum.value > 1e5 ? '10⁶' : datum.value > 1e2 ? '10³' : datum.value > 0.1 ? '10⁰' : datum.value > 1e-4 ? '10⁻³' : datum.value > 1e-7 ? '10⁻⁶' : '10⁻⁹'", "title": null}},
       "color": {"field": "s", "type": "nominal", "scale": {"domain": ["sig","dy","eta","est"], "range": ["#008000","#ff00ff","#000000","#0000ff"]}, "legend": {"title": null, "orient": "none", "legendX": 15, "legendY": 106, "labelExpr": "datum.label == 'sig' ? 'σᵢ' : datum.label == 'dy' ? '|uᵢ · ΔY|' : datum.label == 'eta' ? '|uᵢ · (η + η̃)|' : '|uᵢ · ηₑₛₜ|'", "labelFontStyle": "italic", "labelFontSize": 11.5, "labelOffset": 14, "rowPadding": 6.5, "symbolSize": 50, "symbolStrokeWidth": 0}},
       "shape": {"field": "s", "type": "nominal", "scale": {"domain": ["sig","dy","eta","est"], "range": ["circle","circle","M0,-0.26L0.74,-1L1,-1L1,-0.74L0.26,0L1,0.74L1,1L0.74,1L0,0.26L-0.74,1L-1,1L-1,0.74L-0.26,0L-1,-0.74L-1,-1L-0.74,-1Z","M0,-0.26L0.74,-1L1,-1L1,-0.74L0.26,0L1,0.74L1,1L0.74,1L0,0.26L-0.74,1L-1,1L-1,0.74L-0.26,0L-1,-0.74L-1,-1L-0.74,-1Z"]}, "legend": {"title": null, "orient": "none", "legendX": 15, "legendY": 106, "labelExpr": "datum.label == 'sig' ? 'σᵢ' : datum.label == 'dy' ? '|uᵢ · ΔY|' : datum.label == 'eta' ? '|uᵢ · (η + η̃)|' : '|uᵢ · ηₑₛₜ|'", "labelFontStyle": "italic", "labelFontSize": 11.5, "labelOffset": 14, "rowPadding": 6.5, "symbolSize": 50, "symbolStrokeWidth": 0}}
      }},
     {"data": {"name": "r23"}, "mark": {"type": "point", "filled": false, "color": "#ff0000", "strokeWidth": 1.6, "size": 55, "opacity": 1},
      "encoding": {
       "x": {"field": "i", "type": "quantitative", "scale": {"domain": [-0.45, 31.45], "nice": false, "zero": false}, "axis": {"orient": "top", "values": [0,10,20,30], "labels": false, "title": null}},
       "y": {"field": "v", "type": "quantitative", "scale": {"type": "log", "domain": [5.4e-13, 631], "nice": false}, "axis": {"orient": "right", "values": [1e-12,1e-10,1e-8,1e-6,1e-4,1e-2,1,100], "labelFontSize": 12, "labelExpr": "datum.value > 10 ? '10²' : datum.value > 0.1 ? '10⁰' : datum.value > 1e-3 ? '10⁻²' : datum.value > 1e-5 ? '10⁻⁴' : datum.value > 1e-7 ? '10⁻⁶' : datum.value > 1e-9 ? '10⁻⁸' : datum.value > 1e-11 ? '10⁻¹⁰' : '10⁻¹²'", "title": "|uᵢ · η̃|/|uᵢ · η|", "titleColor": "#ff0000", "titleAngle": 270, "titleFontStyle": "italic", "titleFontSize": 15, "titlePadding": 12}}
      }}
    ],
    "resolve": {"scale": {"x": "independent", "y": "independent"}}
   }
  ]
 },
 {
  "title": {"text": "Coefficients of solution", "subtitle": "(2.23)", "subtitleColor": "#2878b8", "fontSize": 25, "subtitleFontSize": 25, "subtitlePadding": 8, "offset": 25},
  "spacing": 30,
  "resolve": {"scale": {"color": "independent"}, "legend": {"color": "independent"}},
  "vconcat": [
   {
    "title": {"text": "(b₁)"},
    "width": 279, "height": 190,
    "layer": [
     {"data": {"name": "b1"}, "mark": {"type": "point", "filled": true, "size": 121, "opacity": 1, "shape": "M0,-1L0.62,0L0,1L-0.62,0Z"},
      "encoding": {
       "x": {"field": "i", "type": "quantitative", "scale": {"domain": [-0.45, 31.45], "nice": false, "zero": false}, "axis": {"orient": "bottom", "values": [0,5,10,15,20,25,30], "title": "i"}},
       "y": {"field": "v", "type": "quantitative", "scale": {"domain": [-0.053, 1.112], "nice": false, "zero": false}, "axis": {"orient": "left", "values": [0,0.2,0.4,0.6,0.8,1.0], "format": ".1f", "title": null}},
       "color": {"field": "s", "type": "nominal", "scale": {"domain": ["dy","eta","est"], "range": ["#ff00ff","#000000","#0000ff"]}, "legend": {"title": null, "orient": "none", "legendX": 148, "legendY": 8, "symbolType": "M0,-1L0.62,0L0,1L-0.62,0Z", "symbolSize": 121, "symbolStrokeWidth": 0, "labelExpr": "datum.label == 'dy' ? 'fᵢ(λ)|uᵢ · ΔY|/σᵢ' : datum.label == 'eta' ? 'fᵢ(λ)|uᵢ · (η + η̃)|/σᵢ' : 'fᵢ(λ)|uᵢ · ηₑₛₜ|/σᵢ'", "labelFontStyle": "italic", "labelFontSize": 11.5, "labelOffset": 12, "rowPadding": 8}}
      }},
     {"data": {"name": "b1"}, "mark": {"type": "point", "opacity": 0},
      "encoding": {
       "x": {"field": "i", "type": "quantitative", "scale": {"domain": [-0.45, 31.45], "nice": false, "zero": false}, "axis": {"orient": "top", "values": [0,5,10,15,20,25,30], "labels": false, "title": null}},
       "y": {"field": "v", "type": "quantitative", "scale": {"domain": [-0.053, 1.112], "nice": false, "zero": false}, "axis": {"orient": "right", "values": [0,0.2,0.4,0.6,0.8,1.0], "labels": false, "title": null}}
      }}
    ],
    "resolve": {"scale": {"x": "independent", "y": "independent"}}
   },
   {
    "title": {"text": "(b₂)"},
    "width": 279, "height": 190,
    "layer": [
     {"data": {"name": "b2"}, "mark": {"type": "point", "filled": true, "size": 121, "opacity": 1, "shape": "M0,-1L0.62,0L0,1L-0.62,0Z"},
      "encoding": {
       "x": {"field": "i", "type": "quantitative", "scale": {"domain": [-0.45, 31.45], "nice": false, "zero": false}, "axis": {"orient": "bottom", "values": [0,5,10,15,20,25,30], "title": "i"}},
       "y": {"field": "v", "type": "quantitative", "scale": {"domain": [-0.18, 3.73], "nice": false, "zero": false}, "axis": {"orient": "left", "values": [0,0.5,1.0,1.5,2.0,2.5,3.0,3.5], "format": ".1f", "title": null}},
       "color": {"field": "s", "type": "nominal", "scale": {"domain": ["dy","eta","est"], "range": ["#ff00ff","#000000","#0000ff"]}, "legend": {"title": null, "orient": "none", "legendX": 148, "legendY": 8, "symbolType": "M0,-1L0.62,0L0,1L-0.62,0Z", "symbolSize": 121, "symbolStrokeWidth": 0, "labelExpr": "datum.label == 'dy' ? 'fᵢ(λ)|uᵢ · ΔY|/σᵢ' : datum.label == 'eta' ? 'fᵢ(λ)|uᵢ · (η + η̃)|/σᵢ' : 'fᵢ(λ)|uᵢ · ηₑₛₜ|/σᵢ'", "labelFontStyle": "italic", "labelFontSize": 11.5, "labelOffset": 12, "rowPadding": 8}}
      }},
     {"data": {"name": "b2"}, "mark": {"type": "point", "opacity": 0},
      "encoding": {
       "x": {"field": "i", "type": "quantitative", "scale": {"domain": [-0.45, 31.45], "nice": false, "zero": false}, "axis": {"orient": "top", "values": [0,5,10,15,20,25,30], "labels": false, "title": null}},
       "y": {"field": "v", "type": "quantitative", "scale": {"domain": [-0.18, 3.73], "nice": false, "zero": false}, "axis": {"orient": "right", "values": [0,0.5,1.0,1.5,2.0,2.5,3.0,3.5], "labels": false, "title": null}}
      }}
    ],
    "resolve": {"scale": {"x": "independent", "y": "independent"}}
   },
   {
    "title": {"text": "(b₃)"},
    "width": 279, "height": 190,
    "layer": [
     {"data": {"name": "b3"}, "mark": {"type": "point", "filled": true, "size": 121, "opacity": 1, "shape": "M0,-1L0.62,0L0,1L-0.62,0Z"},
      "encoding": {
       "x": {"field": "i", "type": "quantitative", "scale": {"domain": [-0.45, 31.45], "nice": false, "zero": false}, "axis": {"orient": "bottom", "values": [0,5,10,15,20,25,30], "title": "i"}},
       "y": {"field": "v", "type": "quantitative", "scale": {"domain": [-0.033, 0.678], "nice": false, "zero": false}, "axis": {"orient": "left", "values": [0,0.1,0.2,0.3,0.4,0.5,0.6], "format": ".1f", "title": null}},
       "color": {"field": "s", "type": "nominal", "scale": {"domain": ["dy","eta","est"], "range": ["#ff00ff","#000000","#0000ff"]}, "legend": {"title": null, "orient": "none", "legendX": 148, "legendY": 8, "symbolType": "M0,-1L0.62,0L0,1L-0.62,0Z", "symbolSize": 121, "symbolStrokeWidth": 0, "labelExpr": "datum.label == 'dy' ? 'fᵢ(λ)|uᵢ · ΔY|/σᵢ' : datum.label == 'eta' ? 'fᵢ(λ)|uᵢ · (η + η̃)|/σᵢ' : 'fᵢ(λ)|uᵢ · ηₑₛₜ|/σᵢ'", "labelFontStyle": "italic", "labelFontSize": 11.5, "labelOffset": 12, "rowPadding": 8}}
      }},
     {"data": {"name": "b3"}, "mark": {"type": "point", "opacity": 0},
      "encoding": {
       "x": {"field": "i", "type": "quantitative", "scale": {"domain": [-0.45, 31.45], "nice": false, "zero": false}, "axis": {"orient": "top", "values": [0,5,10,15,20,25,30], "labels": false, "title": null}},
       "y": {"field": "v", "type": "quantitative", "scale": {"domain": [-0.033, 0.678], "nice": false, "zero": false}, "axis": {"orient": "right", "values": [0,0.1,0.2,0.3,0.4,0.5,0.6], "labels": false, "title": null}}
      }}
    ],
    "resolve": {"scale": {"x": "independent", "y": "independent"}}
   }
  ]
 },
 {
  "title": {"text": "\u00a0", "subtitle": "Linear response function", "fontSize": 25, "subtitleFontSize": 25, "subtitlePadding": 8, "offset": 25},
  "spacing": 30,
  "resolve": {"scale": {"color": "independent", "opacity": "independent"}, "legend": {"color": "independent", "opacity": "independent"}},
  "vconcat": [
   {
    "title": {"text": "(c₁)"},
    "width": 262, "height": 190,
    "layer": [
     {"data": {"name": "c1"}, "mark": {"type": "line", "strokeWidth": 2, "interpolate": "monotone"},
      "encoding": {
       "x": {"field": "t", "type": "quantitative", "scale": {"domain": [0, 146], "nice": false, "zero": false}, "axis": {"orient": "bottom", "values": [0,20,40,60,80,100,120,140], "title": "Time"}},
       "y": {"field": "v", "type": "quantitative", "scale": {"domain": [-0.042, 1.09], "nice": false, "zero": false}, "axis": {"orient": "left", "values": [0,0.2,0.4,0.6,0.8,1.0], "format": ".1f", "title": "Response function χ"}},
       "color": {"field": "s", "type": "nominal", "scale": {"domain": ["true","recovered"], "range": ["#000000","#4669af"]}, "legend": {"title": null, "orient": "none", "legendX": 164, "legendY": 0, "symbolType": "stroke", "symbolSize": 576, "symbolStrokeWidth": 2, "labelFontSize": 11, "labelOffset": 8, "rowPadding": -2}},
       "opacity": {"field": "s", "type": "nominal", "scale": {"domain": ["true","recovered"], "range": [1, 0.7]}, "legend": {"title": null, "orient": "none", "legendX": 164, "legendY": 0, "symbolType": "stroke", "symbolSize": 576, "symbolStrokeWidth": 2, "labelFontSize": 11, "labelOffset": 8, "rowPadding": -2}}
      }},
     {"data": {"name": "c1"}, "mark": {"type": "point", "opacity": 0},
      "encoding": {
       "x": {"field": "t", "type": "quantitative", "scale": {"domain": [0, 146], "nice": false, "zero": false}, "axis": {"orient": "top", "values": [0,20,40,60,80,100,120,140], "labels": false, "title": null}},
       "y": {"field": "v", "type": "quantitative", "scale": {"domain": [-0.042, 1.09], "nice": false, "zero": false}, "axis": {"orient": "right", "values": [0,0.2,0.4,0.6,0.8,1.0], "labels": false, "title": null}}
      }}
    ],
    "resolve": {"scale": {"x": "independent", "y": "independent"}}
   },
   {
    "title": {"text": "(c₂)"},
    "width": 253, "height": 190,
    "layer": [
     {"data": {"name": "c2"}, "mark": {"type": "line", "strokeWidth": 2, "interpolate": "monotone"},
      "encoding": {
       "x": {"field": "t", "type": "quantitative", "scale": {"domain": [0, 146], "nice": false, "zero": false}, "axis": {"orient": "bottom", "values": [0,20,40,60,80,100,120,140], "title": "Time"}},
       "y": {"field": "v", "type": "quantitative", "scale": {"domain": [-0.21, 1.28], "nice": false, "zero": false}, "axis": {"orient": "left", "values": [-0.2,0,0.2,0.4,0.6,0.8,1.0,1.2], "format": ".1f", "title": "Response function χ"}},
       "color": {"field": "s", "type": "nominal", "scale": {"domain": ["true","recovered"], "range": ["#000000","#4669af"]}, "legend": {"title": null, "orient": "none", "legendX": 155, "legendY": 2, "symbolType": "stroke", "symbolSize": 576, "symbolStrokeWidth": 2, "labelFontSize": 11, "labelOffset": 8, "rowPadding": -2}},
       "opacity": {"field": "s", "type": "nominal", "scale": {"domain": ["true","recovered"], "range": [1, 0.7]}, "legend": {"title": null, "orient": "none", "legendX": 155, "legendY": 2, "symbolType": "stroke", "symbolSize": 576, "symbolStrokeWidth": 2, "labelFontSize": 11, "labelOffset": 8, "rowPadding": -2}}
      }},
     {"data": {"name": "c2"}, "mark": {"type": "point", "opacity": 0},
      "encoding": {
       "x": {"field": "t", "type": "quantitative", "scale": {"domain": [0, 146], "nice": false, "zero": false}, "axis": {"orient": "top", "values": [0,20,40,60,80,100,120,140], "labels": false, "title": null}},
       "y": {"field": "v", "type": "quantitative", "scale": {"domain": [-0.21, 1.28], "nice": false, "zero": false}, "axis": {"orient": "right", "values": [-0.2,0,0.2,0.4,0.6,0.8,1.0,1.2], "labels": false, "title": null}}
      }}
    ],
    "resolve": {"scale": {"x": "independent", "y": "independent"}}
   },
   {
    "title": {"text": "(c₃)"},
    "width": 262, "height": 190,
    "layer": [
     {"data": {"name": "c3"}, "mark": {"type": "line", "strokeWidth": 2, "interpolate": "monotone"},
      "encoding": {
       "x": {"field": "t", "type": "quantitative", "scale": {"domain": [0, 146], "nice": false, "zero": false}, "axis": {"orient": "bottom", "values": [0,20,40,60,80,100,120,140], "title": "Time"}},
       "y": {"field": "v", "type": "quantitative", "scale": {"domain": [-0.05, 1.065], "nice": false, "zero": false}, "axis": {"orient": "left", "values": [0,0.2,0.4,0.6,0.8,1.0], "format": ".1f", "title": "Response function χ"}},
       "color": {"field": "s", "type": "nominal", "scale": {"domain": ["true","recovered"], "range": ["#000000","#4669af"]}, "legend": {"title": null, "orient": "none", "legendX": 164, "legendY": 2, "symbolType": "stroke", "symbolSize": 576, "symbolStrokeWidth": 2, "labelFontSize": 11, "labelOffset": 8, "rowPadding": -2}},
       "opacity": {"field": "s", "type": "nominal", "scale": {"domain": ["true","recovered"], "range": [1, 0.7]}, "legend": {"title": null, "orient": "none", "legendX": 164, "legendY": 2, "symbolType": "stroke", "symbolSize": 576, "symbolStrokeWidth": 2, "labelFontSize": 11, "labelOffset": 8, "rowPadding": -2}}
      }},
     {"data": {"name": "c3"}, "mark": {"type": "point", "opacity": 0},
      "encoding": {
       "x": {"field": "t", "type": "quantitative", "scale": {"domain": [0, 146], "nice": false, "zero": false}, "axis": {"orient": "top", "values": [0,20,40,60,80,100,120,140], "labels": false, "title": null}},
       "y": {"field": "v", "type": "quantitative", "scale": {"domain": [-0.05, 1.065], "nice": false, "zero": false}, "axis": {"orient": "right", "values": [0,0.2,0.4,0.6,0.8,1.0], "labels": false, "title": null}}
      }}
    ],
    "resolve": {"scale": {"x": "independent", "y": "independent"}}
   }
  ]
 }
]
}
